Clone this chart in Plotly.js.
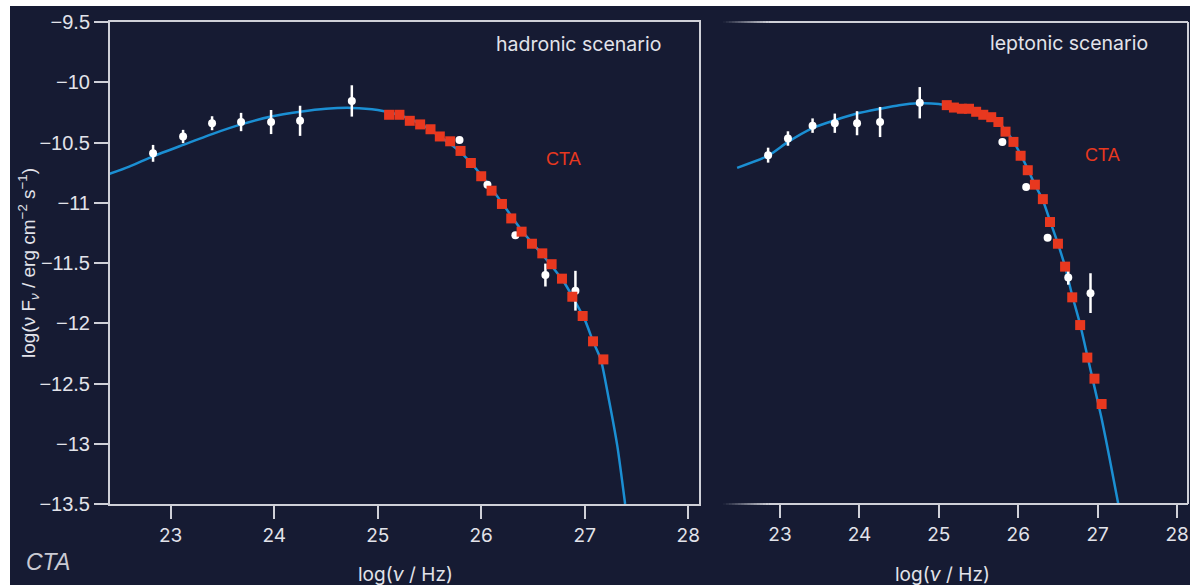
<!DOCTYPE html>
<html>
<head>
<meta charset="utf-8">
<script src="https://cdn.plot.ly/plotly-3.0.1.min.js"></script>
<style>
  html, body { margin: 0; padding: 0; background: #ffffff; }
  #chart { position: absolute; left: 10px; top: 6px; width: 1180px; height: 579px; }
</style>
</head>
<body>
<div id="chart"></div>
<script>
// ---- Hadronic scenario ----
const hadObsX   = [22.83, 23.12, 23.40, 23.68, 23.97, 24.25, 24.75, 25.79, 26.06, 26.33, 26.62, 26.91];
const hadObsY   = [-10.59, -10.45, -10.34, -10.33, -10.33, -10.32, -10.155, -10.48, -10.85, -11.27, -11.60, -11.73];
const hadObsErr = [0.07, 0.055, 0.058, 0.076, 0.10, 0.125, 0.13, 0, 0, 0, 0.095, 0.165];

const hadCtaX = [25.11, 25.21, 25.31, 25.41, 25.51, 25.60, 25.70, 25.80, 25.90, 26.00, 26.10,
                 26.20, 26.29, 26.39, 26.49, 26.59, 26.68, 26.78, 26.88, 26.98, 27.08, 27.18];
const hadCtaY = [-10.27, -10.27, -10.32, -10.35, -10.39, -10.45, -10.49, -10.57, -10.67, -10.78, -10.90,
                 -11.01, -11.13, -11.24, -11.34, -11.42, -11.51, -11.63, -11.78, -11.94, -12.15, -12.30];

const hadModelX = [22.41, 22.60, 22.83, 23.12, 23.40, 23.68, 23.97, 24.25, 24.50, 24.75, 25.00, 25.20,
                   25.40, 25.60, 25.80, 26.00, 26.20, 26.40, 26.60, 26.80, 27.00, 27.08, 27.155, 27.228, 27.315, 27.39];
const hadModelY = [-10.76, -10.70, -10.615, -10.52, -10.43, -10.35, -10.285, -10.245, -10.22, -10.213, -10.23, -10.27,
                   -10.34, -10.45, -10.58, -10.77, -11.00, -11.24, -11.44, -11.66, -11.97, -12.15, -12.30, -12.61, -13.02, -13.5];

// ---- Leptonic scenario ----
const lepObsX   = [22.85, 23.10, 23.41, 23.69, 23.97, 24.26, 24.76, 25.80, 26.10, 26.37, 26.63, 26.91];
const lepObsY   = [-10.605, -10.467, -10.36, -10.34, -10.34, -10.33, -10.17, -10.495, -10.87, -11.29, -11.62, -11.75];
const lepObsErr = [0.062, 0.06, 0.06, 0.08, 0.10, 0.125, 0.13, 0, 0, 0, 0.06, 0.165];

const lepCtaX = [25.10, 25.19, 25.29, 25.38, 25.47, 25.56, 25.66, 25.75, 25.84, 25.94, 26.03,
                 26.12, 26.21, 26.31, 26.40, 26.50, 26.59, 26.68, 26.78, 26.87, 26.96, 27.05];
const lepCtaY = [-10.19, -10.21, -10.22, -10.22, -10.245, -10.27, -10.29, -10.33, -10.41, -10.495, -10.61,
                 -10.73, -10.85, -10.97, -11.16, -11.34, -11.53, -11.785, -12.015, -12.285, -12.46, -12.67];

const lepModelX = [22.46, 22.85, 23.10, 23.41, 23.69, 23.97, 24.26, 24.50, 24.76, 25.00, 25.10, 25.29,
                   25.47, 25.66, 25.75, 25.84, 25.94, 26.03, 26.12, 26.21, 26.31, 26.40, 26.50, 26.59,
                   26.68, 26.78, 26.87, 26.96, 27.05, 27.15, 27.26];
const lepModelY = [-10.71, -10.61, -10.495, -10.38, -10.315, -10.26, -10.22, -10.19, -10.175, -10.18, -10.19, -10.215,
                   -10.245, -10.29, -10.33, -10.40, -10.49, -10.60, -10.72, -10.85, -10.98, -11.15, -11.34, -11.53,
                   -11.77, -12.01, -12.27, -12.53, -12.79, -13.12, -13.5];

const xTicks = [23, 24, 25, 26, 27, 28];
const yTicks = [-9.5, -10, -10.5, -11, -11.5, -12, -12.5, -13, -13.5];

// ---- styling ----
const BG = '#161b33';
const AXIS = '#cfd0d8';
const TEXT = '#e2e3ea';
const MODEL = '#1b8fd3';
const CTA_RED = '#e8381f';

function modelTrace(x, y, xa, ya) {
  return { x, y, xaxis: xa, yaxis: ya, type: 'scatter', mode: 'lines',
           line: { color: MODEL, width: 2.5, shape: 'spline', smoothing: 0.6 },
           hoverinfo: 'skip', showlegend: false };
}
function obsTrace(x, y, err, xa, ya) {
  return { x, y, xaxis: xa, yaxis: ya, type: 'scatter', mode: 'markers',
           marker: { color: '#ffffff', size: 8 },
           error_y: { type: 'data', array: err, visible: true, color: '#ffffff', thickness: 2.5, width: 0 },
           showlegend: false };
}
function ctaTrace(x, y, xa, ya) {
  return { x, y, xaxis: xa, yaxis: ya, type: 'scatter', mode: 'markers',
           marker: { color: CTA_RED, size: 10, symbol: 'square' },
           showlegend: false };
}

const data = [
  modelTrace(hadModelX, hadModelY, 'x', 'y'),
  obsTrace(hadObsX, hadObsY, hadObsErr, 'x', 'y'),
  ctaTrace(hadCtaX, hadCtaY, 'x', 'y'),
  modelTrace(lepModelX, lepModelY, 'x2', 'y2'),
  obsTrace(lepObsX, lepObsY, lepObsErr, 'x2', 'y2'),
  ctaTrace(lepCtaX, lepCtaY, 'x2', 'y2')
];

const xTickFont = { family: 'Inter, "Open Sans", sans-serif', size: 19, color: TEXT };
const yTickFont = { family: '"Liberation Sans", Arial, sans-serif', size: 20, color: TEXT };

// right panel frame: top and bottom edges fade in from the left
const shapes = [];
const fadeSteps = 15, fadeSpan = 0.097;
for (const yEdge of [0, 1]) {
  for (let i = 0; i < fadeSteps; i++) {
    shapes.push({ type: 'line', xref: 'x2 domain', yref: 'y2 domain',
                  x0: i * fadeSpan / fadeSteps, x1: (i + 1) * fadeSpan / fadeSteps,
                  y0: yEdge, y1: yEdge,
                  line: { color: AXIS, width: 2 }, opacity: (i + 0.5) / fadeSteps, layer: 'above' });
  }
  shapes.push({ type: 'line', xref: 'x2 domain', yref: 'y2 domain',
                x0: fadeSpan, x1: 1, y0: yEdge, y1: yEdge,
                line: { color: AXIS, width: 2 }, layer: 'above' });
}
shapes.push({ type: 'line', xref: 'x2 domain', yref: 'y2 domain',
              x0: 1, x1: 1, y0: 0, y1: 1, line: { color: AXIS, width: 2 }, layer: 'above' });

const annFont = { family: 'Inter, "Open Sans", sans-serif', size: 19.5, color: TEXT };
const titleFont = { family: 'Inter, "Open Sans", sans-serif', size: 19, color: TEXT };
const redFont = { family: '"Liberation Sans", Arial, sans-serif', size: 18, color: CTA_RED };
const annotations = [
  { text: 'hadronic scenario', xref: 'x', yref: 'y', x: 26.935, y: -9.685, showarrow: false,
    xanchor: 'center', yanchor: 'middle', font: annFont },
  { text: 'leptonic scenario', xref: 'x2', yref: 'y2', x: 26.64, y: -9.677, showarrow: false,
    xanchor: 'center', yanchor: 'middle', font: annFont },
  { text: 'CTA', xref: 'x', yref: 'y', x: 26.79, y: -10.64, showarrow: false,
    xanchor: 'center', yanchor: 'middle', font: redFont },
  { text: 'CTA', xref: 'x2', yref: 'y2', x: 27.055, y: -10.60, showarrow: false,
    xanchor: 'center', yanchor: 'middle', font: redFont },
  { text: 'log(<i>ν</i> / Hz)', xref: 'x', yref: 'paper', x: 25.264, y: -0.147, showarrow: false,
    xanchor: 'center', yanchor: 'middle', font: titleFont },
  { text: 'log(<i>ν</i> / Hz)', xref: 'x2', yref: 'paper', x: 25.04, y: -0.147, showarrow: false,
    xanchor: 'center', yanchor: 'middle', font: titleFont },
  { text: 'log(ν F<sub><i>ν</i></sub> / erg cm<sup>−2</sup> s<sup>−1</sup>)', xref: 'paper', yref: 'paper',
    x: -0.0759, y: 0.5, textangle: -90, showarrow: false, xanchor: 'center', yanchor: 'middle',
    font: { family: '"Liberation Sans", Arial, sans-serif', size: 19, color: TEXT } },
  { text: '<i>CTA</i>', xref: 'paper', yref: 'paper', x: -0.0574, y: -0.120, showarrow: false,
    xanchor: 'center', yanchor: 'middle',
    font: { family: '"Liberation Sans Narrow", "Liberation Sans", sans-serif', size: 23, color: '#c9cad3' } }
];

const layout = {
  width: 1180, height: 579,
  paper_bgcolor: BG, plot_bgcolor: BG,
  margin: { l: 100, r: 0, t: 16, b: 81 },
  showlegend: false,
  xaxis: {
    domain: [0, 0.5454], range: [22.414, 28.104], tickvals: xTicks,
    showline: true, mirror: true, linecolor: AXIS, linewidth: 2,
    ticks: 'outside', ticklen: 13, tickwidth: 2, tickcolor: AXIS,
    showgrid: false, zeroline: false, tickfont: xTickFont
  },
  yaxis: {
    domain: [0, 1], range: [-13.5, -9.5], tickvals: yTicks,
    showline: true, mirror: true, linecolor: AXIS, linewidth: 2,
    ticks: 'outside', ticklen: 14, tickwidth: 2, tickcolor: AXIS,
    showgrid: false, zeroline: false, tickfont: yTickFont
  },
  xaxis2: {
    domain: [0.5676, 0.99815], range: [22.282, 28.138], tickvals: xTicks, anchor: 'y2',
    showline: false, ticks: 'outside', ticklen: 13, tickwidth: 2, tickcolor: AXIS,
    showgrid: false, zeroline: false, tickfont: xTickFont
  },
  yaxis2: {
    domain: [0, 1], range: [-13.5, -9.5], anchor: 'x2',
    showline: false, showticklabels: false, ticks: '',
    showgrid: false, zeroline: false
  },
  shapes, annotations
};

Plotly.newPlot('chart', data, layout, { displayModeBar: false, staticPlot: true });
</script>
</body>
</html>
